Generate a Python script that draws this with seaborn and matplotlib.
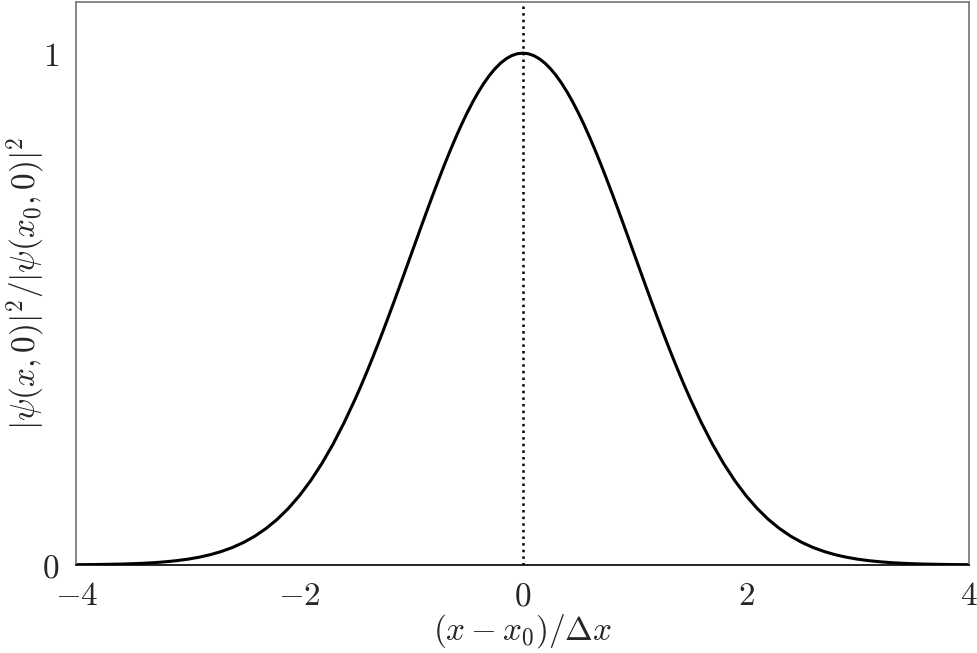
import numpy as np
import pandas as pd
import matplotlib
matplotlib.use("Agg")
import matplotlib.pyplot as plt
import seaborn as sns

# positions (x - x0)/dx and normalised density
x_vals = [-4.0, -3.9, -3.8, -3.7, -3.6, -3.5, -3.4, -3.3, -3.2, -3.1,
          -3.0, -2.9, -2.8, -2.7, -2.6, -2.5, -2.4, -2.3, -2.2, -2.1,
          -2.0, -1.9, -1.8, -1.7, -1.6,
          -1.50, -1.45, -1.40, -1.35, -1.30, -1.25, -1.20, -1.15, -1.10, -1.05,
          -1.00, -0.95, -0.90, -0.85, -0.80, -0.75, -0.70, -0.65, -0.60, -0.55,
          -0.50, -0.45, -0.40, -0.35, -0.30, -0.25, -0.20, -0.15, -0.10, -0.05,
          0.00,
          0.05, 0.10, 0.15, 0.20, 0.25, 0.30, 0.35, 0.40, 0.45, 0.50,
          0.55, 0.60, 0.65, 0.70, 0.75, 0.80, 0.85, 0.90, 0.95, 1.00,
          1.05, 1.10, 1.15, 1.20, 1.25, 1.30, 1.35, 1.40, 1.45, 1.50,
          1.6, 1.7, 1.8, 1.9, 2.0, 2.1, 2.2, 2.3, 2.4, 2.5,
          2.6, 2.7, 2.8, 2.9, 3.0, 3.1, 3.2, 3.3, 3.4, 3.5,
          3.6, 3.7, 3.8, 3.9, 4.0]
density = [0.0003, 0.0005, 0.0007, 0.0011, 0.0015, 0.0022, 0.0031, 0.0043, 0.0060, 0.0082,
           0.0111, 0.0149, 0.0198, 0.0261, 0.0340, 0.0439, 0.0561, 0.0710, 0.0889, 0.1103,
           0.1353, 0.1645, 0.1979, 0.2357, 0.2780,
           0.3247, 0.3494, 0.3753, 0.4020, 0.4296, 0.4578, 0.4868, 0.5162, 0.5461, 0.5762,
           0.6065, 0.6368, 0.6670, 0.6968, 0.7261, 0.7548, 0.7827, 0.8096, 0.8353, 0.8597,
           0.8825, 0.9037, 0.9231, 0.9406, 0.9560, 0.9692, 0.9802, 0.9888, 0.9950, 0.9988,
           1.0000,
           0.9988, 0.9950, 0.9888, 0.9802, 0.9692, 0.9560, 0.9406, 0.9231, 0.9037, 0.8825,
           0.8597, 0.8353, 0.8096, 0.7827, 0.7548, 0.7261, 0.6968, 0.6670, 0.6368, 0.6065,
           0.5762, 0.5461, 0.5162, 0.4868, 0.4578, 0.4296, 0.4020, 0.3753, 0.3494, 0.3247,
           0.2780, 0.2357, 0.1979, 0.1645, 0.1353, 0.1103, 0.0889, 0.0710, 0.0561, 0.0439,
           0.0340, 0.0261, 0.0198, 0.0149, 0.0111, 0.0082, 0.0060, 0.0043, 0.0031, 0.0022,
           0.0015, 0.0011, 0.0007, 0.0005, 0.0003]
x_ticks = [-4, -2, 0, 2, 4]
y_ticks = [0, 1]

df = pd.DataFrame({"x": x_vals, "p": density})

sns.set_style("white")
plt.rcParams["mathtext.fontset"] = "cm"
plt.rcParams["font.family"] = ["DejaVu Serif"]

fig, ax = plt.subplots(figsize=(9.78, 6.53), dpi=100)
fig.subplots_adjust(left=0.078, right=0.991, top=0.997, bottom=0.135)

sns.lineplot(data=df, x="x", y="p", color="black", linewidth=2.2, ax=ax)
ax.axvline(0, color="black", linestyle=":", linewidth=1.8)

ax.set_xlim(-4, 4)
ax.set_ylim(0, 1.1)
ax.set_xticks(x_ticks)
ax.set_xticklabels([r"$%d$" % t for t in x_ticks], fontsize=24)
ax.set_yticks(y_ticks)
ax.set_yticklabels([r"$%d$" % t for t in y_ticks], fontsize=24)
ax.tick_params(direction="in", length=7, width=1)
ax.tick_params(axis="x", pad=11)
ax.tick_params(axis="y", pad=12)

for side in ["left", "top", "right"]:
    ax.spines[side].set_color("0.45")
    ax.spines[side].set_linewidth(1.2)
ax.spines["bottom"].set_color("black")
ax.spines["bottom"].set_linewidth(1.2)

ax.set_xlabel(r"$(x-x_0)/\Delta x$", fontsize=24, labelpad=0)
ax.set_ylabel(r"$|\psi(x,0)|^2/|\psi(x_0,0)|^2$", fontsize=24, labelpad=-4)

fig.savefig("out.png", dpi=100)
